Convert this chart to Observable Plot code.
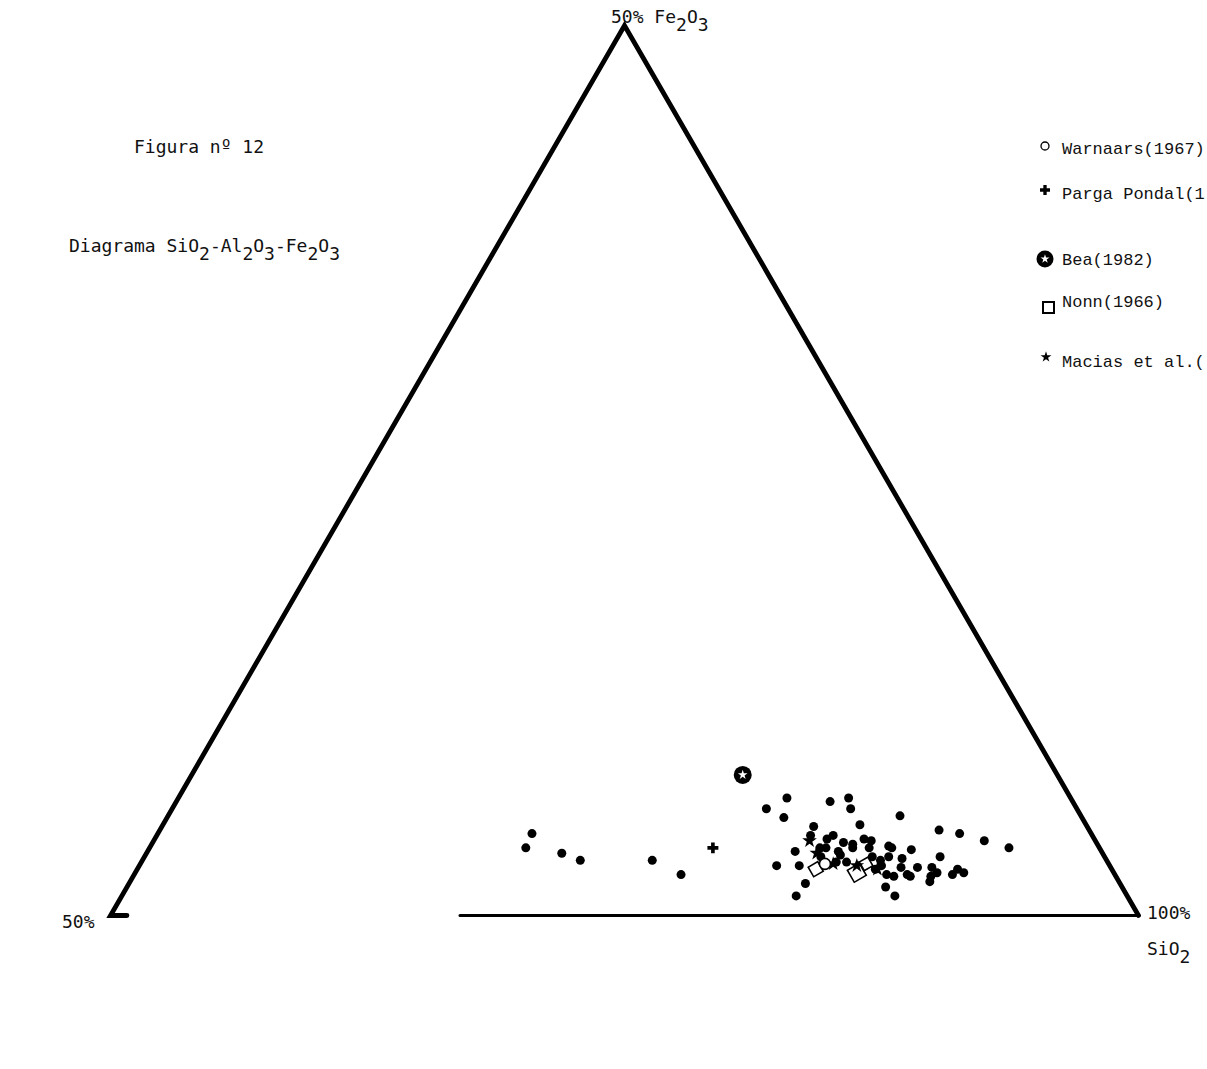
<!DOCTYPE html>
<html>
<head>
<meta charset="utf-8">
<script src="https://cdn.jsdelivr.net/npm/d3@7"></script>
<script src="https://cdn.jsdelivr.net/npm/@observablehq/plot@0.6"></script>
<style>
  html, body { margin: 0; padding: 0; background: #fff; }
  #wrap { position: relative; width: 1207px; height: 1069px; overflow: hidden; }
  #chart, #overlay { position: absolute; left: 0; top: 0; }
  #overlay { pointer-events: none; }
  .sans { font-family: "DejaVu Sans Mono", monospace; font-size: 18px; fill: #111; }
  .mono { font-family: "Liberation Mono", "Courier New", monospace; font-size: 17px; fill: #111; }
</style>
</head>
<body>
<div id="wrap">
  <div id="chart"></div>
  <svg id="overlay" width="1207" height="1069"></svg>
</div>
<script>
// ---- Data (weight %, diagram corners: 50% Fe2O3 / 50% Al2O3 / 100% SiO2) ----
// Samples of this study (filled dots)
const dotSiO2  = [68.3,68.2,70.2,71.3,74.8,76.6,79.6,78.9,80.0,81.8,82.6,83.0,83.9,81.7,82.7,82.9,82.6,82.9,82.9,81.5,81.0,82.1,82.9,82.8,83.6,84.1,84.2,83.6,83.8,83.8,84.5,84.9,85.0,85.0,85.3,85.6,87.9,89.0,90.4,91.8,85.9,86.1,87.1,86.2,88.7,86.9,85.9,86.1,87.1,87.9,88.6,89.0,89.9,90.3,89.8,86.6,87.0,87.6,87.8,88.8,88.9,86.9,87.6,85.9,81.8,85.4,84.3];
const dotAl2O3 = [27.9,27.2,26.3,25.6,22.1,21.1,13.8,15.1,14.5,11.8,10.8,11.0,11.0,13.3,13.0,12.6,13.6,13.3,13.8,14.9,16.2,15.1,15.3,16.1,12.3,11.9,12.0,12.8,12.8,13.2,11.2,10.9,11.2,12.2,11.9,8.8,7.3,6.4,5.4,4.4,10.2,10.1,9.2,10.5,8.0,9.9,11.0,11.1,10.2,9.4,8.7,8.6,7.5,7.3,7.9,11.1,10.8,10.1,10.0,9.0,9.2,11.5,11.3,11.5,13.7,11.3,12.7];
const dotFe2O3 = [3.8,4.6,3.5,3.1,3.1,2.3,6.6,6.0,5.5,6.4,6.6,6.0,5.1,5.0,4.3,4.5,3.8,3.8,3.3,3.6,2.8,2.8,1.8,1.1,4.1,4.0,3.8,3.6,3.4,3.0,4.3,4.2,3.8,2.8,2.8,5.6,4.8,4.6,4.2,3.8,3.9,3.8,3.7,3.3,3.3,3.2,3.1,2.8,2.7,2.7,2.7,2.4,2.6,2.4,2.3,2.3,2.2,2.3,2.2,2.2,1.9,1.6,1.1,2.6,4.5,3.3,3.0];

// Warnaars (1967)
const warnaarsSiO2 = [83.3], warnaarsAl2O3 = [13.8], warnaarsFe2O3 = [2.9];
// Parga Pondal
const pargaSiO2 = [77.4], pargaAl2O3 = [18.8], pargaFe2O3 = [3.8];
// Bea (1982)
const beaSiO2 = [76.8], beaAl2O3 = [15.3], beaFe2O3 = [7.9];
// Nonn (1966)
const nonnSiO2 = [83.0, 85.1, 85.3], nonnAl2O3 = [14.4, 12.5, 11.8], nonnFe2O3 = [2.6, 2.4, 2.9];
const nonnSize = [6.2, 7.8, 5.6];
// Macias et al.
const maciasSiO2 = [81.9, 82.6, 83.7, 84.9, 86.0], maciasAl2O3 = [13.9, 13.9, 13.4, 12.3, 11.4], maciasFe2O3 = [4.2, 3.5, 2.9, 2.8, 2.6];

// Triangle outline (visible parts of the scanned frame)
const frameSiO2  = [50.8, 50, 50, 100, 67.0];
const frameAl2O3 = [49.2, 50, 0, 0, 33.0];
const frameFe2O3 = [0, 0, 50, 0, 0];

// Labels (legend entries as far as they are visible on the sheet)
const titleText = "Figura nº 12";
const legendLabels = ["Warnaars(1967)", "Parga Pondal(1", "Bea(1982)", "Nonn(1966)", "Macias et al.("];

// ---- ternary projection (SiO2 50-100 / Al2O3 0-50 / Fe2O3 0-50) ----
function toXY(si, al, fe) {
  const t = si + al + fe;
  const s = si / t * 100, f = fe / t * 100;
  const b = (s - 50) / 50, c = f / 50;
  return {X: b + c / 2, Y: c * Math.sqrt(3) / 2};
}
const rows = (S, A, F, extra) => S.map((s, i) => Object.assign(toXY(s, A[i], F[i]), extra ? extra(i) : {}));

const dots = rows(dotSiO2, dotAl2O3, dotFe2O3);
const warnaars = rows(warnaarsSiO2, warnaarsAl2O3, warnaarsFe2O3);
const parga = rows(pargaSiO2, pargaAl2O3, pargaFe2O3);
const bea = rows(beaSiO2, beaAl2O3, beaFe2O3);
const nonn = rows(nonnSiO2, nonnAl2O3, nonnFe2O3, i => ({r: nonnSize[i]}));
const macias = rows(maciasSiO2, maciasAl2O3, maciasFe2O3);
const frame = rows(frameSiO2, frameAl2O3, frameFe2O3);
const sides = frame.slice(0, 4);
const base = frame.slice(3, 5);

const plot = Plot.plot({
  width: 1207,
  height: 1069,
  marginLeft: 110,
  marginRight: 69,
  marginTop: 25,
  marginBottom: 154,
  x: {domain: [0, 1], axis: null},
  y: {domain: [0, Math.sqrt(3) / 2], axis: null},
  r: {type: "identity"},
  style: {background: "white"},
  marks: [
    Plot.line(sides, {x: "X", y: "Y", stroke: "#000", strokeWidth: 4.8, strokeLinejoin: "miter", strokeMiterlimit: 10}),
    Plot.line(base, {x: "X", y: "Y", stroke: "#000", strokeWidth: 3}),
    Plot.dot(dots, {x: "X", y: "Y", r: 4.5, fill: "#000", stroke: "none"}),
    Plot.dot(nonn, {x: "X", y: "Y", r: "r", symbol: "square", rotate: -30, fill: "white", stroke: "#000", strokeWidth: 1.6}),
    Plot.dot(macias, {x: "X", y: "Y", r: 4.6, symbol: "star", fill: "#000", stroke: "none"}),
    Plot.dot(warnaars, {x: "X", y: "Y", r: 5.5, fill: "white", stroke: "#000", strokeWidth: 1.6}),
    Plot.dot(parga, {x: "X", y: "Y", r: 4.6, symbol: "cross", fill: "#000", stroke: "none"}),
    Plot.dot(bea, {x: "X", y: "Y", r: 9, fill: "#000", stroke: "none"}),
    Plot.dot(bea, {x: "X", y: "Y", r: 3, symbol: "star", fill: "white", stroke: "none"})
  ]
});
document.getElementById("chart").appendChild(plot);

// ---- text & legend overlay ----
const ov = d3.select("#overlay");
function formula(x, y, segs, cls) {
  const t = ov.append("text").attr("class", cls).attr("x", x).attr("y", y);
  let sub = false;
  segs.forEach(([s, isSub]) => {
    const sp = t.append("tspan").text(s);
    if (isSub && !sub) { sp.attr("dy", 8); sub = true; }
    else if (!isSub && sub) { sp.attr("dy", -8); sub = false; }
  });
  return t;
}
ov.append("text").attr("class", "sans").attr("x", 134).attr("y", 153).text(titleText);
formula(69, 252, [["Diagrama SiO"], ["2", 1], ["-Al"], ["2", 1], ["O"], ["3", 1], ["-Fe"], ["2", 1], ["O"], ["3", 1]], "sans");
formula(611, 23, [["50% Fe"], ["2", 1], ["O"], ["3", 1]], "sans");
ov.append("text").attr("class", "sans").attr("x", 62).attr("y", 928).text("50%");
ov.append("text").attr("class", "sans").attr("x", 1147).attr("y", 919).text("100%");
formula(1147, 955, [["SiO"], ["2", 1]], "sans");

// legend
const legY = [154, 199, 265, 307, 367];
legendLabels.forEach((l, i) => ov.append("text").attr("class", "mono").attr("x", 1062).attr("y", legY[i]).text(l));
const sym = (type, size) => d3.symbol(type, size)();
ov.append("circle").attr("cx", 1045).attr("cy", 146).attr("r", 4).attr("fill", "white").attr("stroke", "#000").attr("stroke-width", 1.3);
ov.append("path").attr("d", sym(d3.symbolCross, Math.PI * 4.2 * 4.2)).attr("transform", "translate(1045,190)").attr("fill", "#000");
ov.append("circle").attr("cx", 1045).attr("cy", 259).attr("r", 8.5).attr("fill", "#000");
ov.append("path").attr("d", sym(d3.symbolStar, Math.PI * 2.8 * 2.8)).attr("transform", "translate(1045,259)").attr("fill", "white");
ov.append("rect").attr("x", 1043).attr("y", 302).attr("width", 11).attr("height", 11).attr("fill", "white").attr("stroke", "#000").attr("stroke-width", 2);
ov.append("path").attr("d", sym(d3.symbolStar, Math.PI * 3.4 * 3.4)).attr("transform", "translate(1046,357)").attr("fill", "#000");
</script>
</body>
</html>
